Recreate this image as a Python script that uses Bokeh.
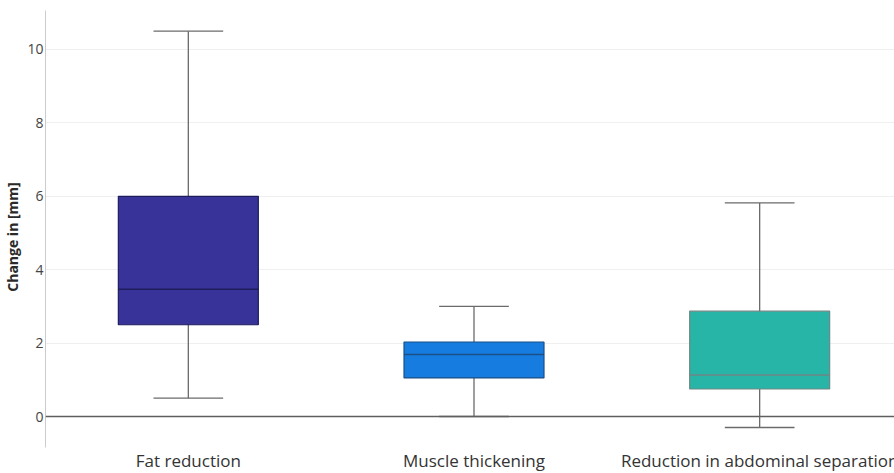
from bokeh.plotting import figure
from bokeh.models import Range1d, FixedTicker, Span, ColumnDataSource
from bokeh.core.properties import value
from bokeh.embed import file_html
from bokeh.resources import INLINE

categories = ["Fat reduction", "Muscle thickening", "Reduction in abdominal separation"]
lower = [0.5, 0.0, -0.3]
q1 = [2.5, 1.05, 0.75]
median = [3.47, 1.69, 1.13]
q3 = [6.0, 2.03, 2.87]
upper = [10.5, 3.0, 5.82]
fill_colors = ["#383399", "#167ce0", "#26b5a6"]
line_colors = ["#1f1c5c", "#1b4f86", "#6f8784"]
median_colors = ["#1f1c5c", "#1b4f86", "#6f8784"]
y_ticks = [0, 2, 4, 6, 8, 10]

Y_MIN, Y_MAX = -0.84, 11.06      # extent of the value axis
LABEL_Y = -1.2                   # where the category names sit (below the axis)

pos = list(range(len(categories)))
bw = 0.245
cw = 0.122
src = ColumnDataSource(dict(
    x=pos,
    left=[p - bw for p in pos], right=[p + bw for p in pos],
    cl=[p - cw for p in pos], cr=[p + cw for p in pos],
    lower=lower, q1=q1, median=median, q3=q3, upper=upper,
    fill=fill_colors, line=line_colors, med=median_colors,
))
lab = ColumnDataSource(dict(x=pos, y=[LABEL_Y] * len(pos), text=categories))

p = figure(width=894, height=473, output_backend="svg", toolbar_location=None,
           x_range=Range1d(-0.5, 2.472), y_range=Range1d(-1.553, 11.335),
           min_border_left=35, min_border_right=0, min_border_top=0, min_border_bottom=0)
p.outline_line_color = None
p.background_fill_color = "white"

p.segment(x0="x", y0="lower", x1="x", y1="upper", source=src, line_color="#6b6b6b", line_width=1.3)
p.segment(x0="cl", y0="lower", x1="cr", y1="lower", source=src, line_color="#6b6b6b", line_width=1.3)
p.segment(x0="cl", y0="upper", x1="cr", y1="upper", source=src, line_color="#6b6b6b", line_width=1.3)
p.quad(left="left", right="right", bottom="q1", top="q3", source=src,
       fill_color="fill", line_color="line", line_width=1.2)
p.segment(x0="left", y0="median", x1="right", y1="median", source=src, line_color="med", line_width=1.5)

p.add_layout(Span(location=0, dimension="width", line_color="#5f5f5f", line_width=1.3))

p.text(x="x", y="y", text="text", source=lab, text_font=value("Open Sans"),
       text_font_size="17px", text_color="#333333", text_align="center", text_baseline="middle")

p.xgrid.grid_line_color = None
p.ygrid.grid_line_color = "#efefef"
p.ygrid.ticker = FixedTicker(ticks=[t for t in y_ticks if t != 0])

p.yaxis.ticker = FixedTicker(ticks=y_ticks)
p.yaxis.bounds = (Y_MIN, Y_MAX)
p.yaxis.axis_label = "Change in [mm]"
p.yaxis.axis_label_text_font = "Open Sans"
p.yaxis.axis_label_text_font_style = "bold"
p.yaxis.axis_label_text_font_size = "14px"
p.yaxis.axis_label_text_color = "#2a2a2a"
p.yaxis.axis_label_standoff = 2
p.yaxis.major_label_text_font = "Open Sans"
p.yaxis.major_label_text_font_size = "14px"
p.yaxis.major_label_text_color = "#444444"
p.yaxis.major_label_standoff = 2
p.yaxis.major_tick_line_color = None
p.yaxis.major_tick_out = 0
p.yaxis.major_tick_in = 0
p.yaxis.minor_tick_line_color = None
p.yaxis.minor_tick_out = 0
p.yaxis.axis_line_color = "#cccccc"

p.xaxis.visible = False

open("out.html", "w").write(file_html(p, INLINE))
